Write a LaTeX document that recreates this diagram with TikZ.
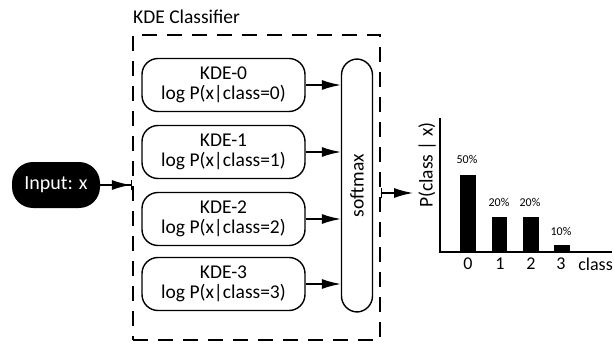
\documentclass[tikz,border=0pt]{standalone}
\usepackage{fontspec}
\setmainfont{Carlito}
\usetikzlibrary{arrows.meta}
\begin{document}
\begin{tikzpicture}[x=1pt,y=-1pt,
  lw/.style={line width=1.4pt},
  kde/.style={draw, lw, rounded corners=16pt, minimum width=163pt, minimum height=53pt,
    align=center, inner sep=0pt, font=\fontsize{19.5}{20}\selectfont},
  arr/.style={lw, -{Latex[length=19pt,width=10pt]}},
  big/.style={font=\fontsize{19.5}{21}\selectfont},
  tick/.style={font=\fontsize{18}{20}\selectfont, inner sep=0pt},
  pct/.style={font=\fontsize{12}{13}\selectfont}]
\useasboundingbox (0,0) rectangle (614,345);
% dashed container
\node[draw, line width=1.6pt, dash pattern=on 15pt off 10pt, minimum width=247pt, minimum height=305pt, inner sep=0pt] (box) at (256.5,187.5) {};
\node[big, anchor=base west, inner sep=0pt] (title) at (133,24) {KDE Classifier};
% KDE boxes
\node[kde] (k0) at (223.5,85) {KDE-0\\log P(x|class=0)};
\node[kde] (k1) at (223.5,152) {KDE-1\\log P(x|class=1)};
\node[kde] (k2) at (223.5,219) {KDE-2\\log P(x|class=2)};
\node[kde] (k3) at (223.5,284) {KDE-3\\log P(x|class=3)};
% softmax
\node[draw, lw, rounded corners=16pt, rotate=90, minimum width=253pt, minimum height=31pt, inner sep=0pt, big] (sm) at (357,185.5) {softmax};
\foreach \k in {k0,k1,k2,k3}{
  \draw[arr] (\k.east) -- (\k.east -| sm.north);
}
% input
\node[fill=black, text=white, rounded corners=21pt, minimum width=88pt, minimum height=46pt, inner sep=0pt, font=\fontsize{20}{22}\selectfont] (in) at (56,185) {Input: x};
\draw[lw, -{Latex[length=19pt,width=10pt] Bar[width=10pt]}] (in.east) -- (in.east -| box.west);
% output arrow
\coordinate (out) at (413,193);
\draw[lw, {Bar[width=10pt]}-{Latex[length=19pt,width=10pt]}] (box.east |- out) -- (out);
% chart
\node[big, rotate=90, inner sep=0pt] (ylab) at (427,165) {P(class | x)};
\draw[line width=2pt] (440,118) -- (440,252) -- (612,252);
\fill (460,175) rectangle (476,252);
\fill (492,217) rectangle (507,252);
\fill (523,217) rectangle (539,252);
\fill (554,245) rectangle (570,252);
\node[pct] (p0) at (467,159) {50\%};
\node[pct] (p1) at (499,202) {20\%};
\node[pct] (p2) at (530,202) {20\%};
\node[pct] (p3) at (561,231) {10\%};
\node[tick] (t0) at (468,264) {0};
\node[tick] (t1) at (500,264) {1};
\node[tick] (t2) at (531,264) {2};
\node[tick] (t3) at (561,264) {3};
\node[tick, anchor=east] (tc) at (613,264) {class};
\end{tikzpicture}
\end{document}
